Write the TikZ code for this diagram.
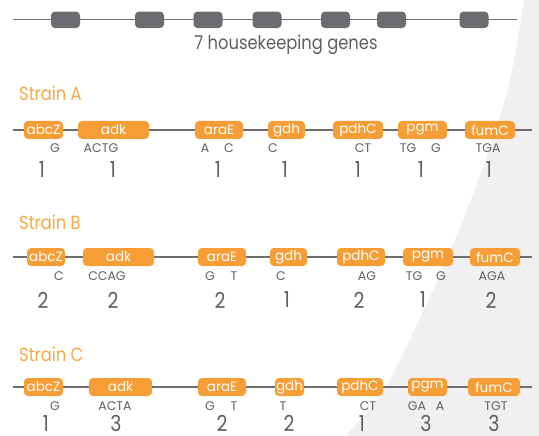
\documentclass[tikz,border=0pt]{standalone}
\usepackage{fontspec}
\setmainfont{Poppins}[FakeStretch=0.86]
\newfontfamily\plainfont{Poppins}
\definecolor{bgrey}{HTML}{F0F0F0}
\definecolor{lgrey}{HTML}{6D6E71}
\definecolor{dgrey}{HTML}{6A6C6F}
\definecolor{tgrey}{HTML}{5E5F62}
\definecolor{orng}{HTML}{F79D36}
\definecolor{torng}{HTML}{F7A845}
\tikzset{
  chrom/.style={draw=lgrey, line width=1.6pt},
  hkbox/.style={fill=dgrey, rounded corners=4pt, minimum width=29, minimum height=16.5, inner sep=0pt},
  obox/.style={fill=orng, text=white, rounded corners=4pt, minimum height=18, inner sep=0pt, font=\plainfont\fontsize{13.5}{14}\selectfont},
  allele/.style={text=tgrey, inner sep=0pt, font=\plainfont\fontsize{12.5}{12.5}\selectfont},
  num/.style={text=tgrey, inner sep=0pt, font=\fontsize{22}{22}\selectfont},
  title/.style={text=torng, inner sep=0pt, anchor=west, font=\fontsize{19}{19}\selectfont},
}
\newcommand{\gene}[5]{\node[obox, minimum width={#3-#2}] (#1) at ({(#2+#3)/2},#4) {#5};}
\begin{document}
\begin{tikzpicture}[x=1pt,y=-1pt]
\useasboundingbox (0,0) rectangle (539,436);
\fill[bgrey] plot[smooth] coordinates {(524,0) (510,80) (488,153) (455,240) (420,318) (384,390) (345,436)} -- (539,436) -- (539,0) -- cycle;
% top
\coordinate (t0) at (13,19.5);
\coordinate (t1) at (517,19.5);
\draw[chrom] (t0) -- (t1);
\node[hkbox] (h1) at (65.5,19.8) {};
\node[hkbox] (h2) at (149.5,19.8) {};
\node[hkbox] (h3) at (208,19.8) {};
\node[hkbox] (h4) at (267,19.8) {};
\node[hkbox] (h5) at (335.5,19.8) {};
\node[hkbox] (h6) at (391.5,19.8) {};
\node[hkbox] (h7) at (474,19.8) {};
\node[text=tgrey, inner sep=0pt, font=\fontsize{19}{19}\selectfont] (hk) at (286,45) {7 housekeeping genes};
% Strain A
\node[title] (tA) at (19,93) {Strain A};
\coordinate (a0) at (13,130);
\coordinate (a9) at (532,130);
\draw[chrom] (a0) -- (a9);
\gene{aabc}{24}{63}{130}{abcZ}
\gene{aadk}{78}{149}{130}{adk}
\gene{aara}{195}{243}{130}{araE}
\gene{agdh}{268}{305}{130}{gdh}
\gene{apdh}{333}{383}{130}{pdhC}
\gene{apgm}{398}{447}{130}{pgm}
\gene{afum}{465}{515}{130}{fumC}
\node[allele] (la1) at (55,148) {G};
\node[allele] (la2) at (101,148) {ACTG};
\node[allele] (la3) at (205,148) {A};
\node[allele] (la4) at (229,148) {C};
\node[allele] (la5) at (273,148) {C};
\node[allele] (la6) at (363,148) {CT};
\node[allele] (la7) at (408,148) {TG};
\node[allele] (la8) at (436,148) {G};
\node[allele] (la9) at (488,148) {TGA};
\node[num] (na1) at (42,170) {1};
\node[num] (na2) at (113,170) {1};
\node[num] (na3) at (218,170) {1};
\node[num] (na4) at (285,170) {1};
\node[num] (na5) at (358,170) {1};
\node[num] (na6) at (421,170) {1};
\node[num] (na7) at (489,170) {1};
% Strain B
\node[title] (tB) at (19,222) {Strain B};
\coordinate (b0) at (13,257);
\coordinate (b9) at (532,257);
\draw[chrom] (b0) -- (b9);
\gene{babc}{27}{65}{257}{abcZ}
\gene{badk}{83}{154}{257}{adk}
\gene{bara}{198}{246}{257}{araE}
\gene{bgdh}{270}{307}{257}{gdh}
\gene{bpdh}{337}{385}{257}{pdhC}
\gene{bpgm}{403}{453}{257}{pgm}
\gene{bfum}{470}{520}{257}{fumC}
\node[allele] (lb1) at (59,276) {C};
\node[allele] (lb2) at (107,276) {CCAG};
\node[allele] (lb3) at (210,276) {G};
\node[allele] (lb4) at (234,276) {T};
\node[allele] (lb5) at (281,276) {C};
\node[allele] (lb6) at (367,276) {AG};
\node[allele] (lb7) at (414,276) {TG};
\node[allele] (lb8) at (441,276) {G};
\node[allele] (lb9) at (492,276) {AGA};
\node[num] (nb1) at (43,300) {2};
\node[num] (nb2) at (113,300) {2};
\node[num] (nb3) at (220,300) {2};
\node[num] (nb4) at (287,300) {1};
\node[num] (nb5) at (359,300) {2};
\node[num] (nb6) at (423,300) {1};
\node[num] (nb7) at (491,300) {2};
% Strain C
\node[title] (tC) at (19,354) {Strain C};
\coordinate (c0) at (13,387);
\coordinate (c9) at (532,387);
\draw[chrom] (c0) -- (c9);
\gene{cabc}{24}{63}{387}{abcZ}
\gene{cadk}{89}{152}{387}{adk}
\gene{cara}{198}{246}{387}{araE}
\gene{cgdh}{275}{304}{387}{gdh}
\gene{cpdh}{337}{383}{387}{pdhC}
\gene{cpgm}{408}{447}{387}{pgm}
\gene{cfum}{468}{520}{387}{fumC}
\node[allele] (lc1) at (55,406) {G};
\node[allele] (lc2) at (115,406) {ACTA};
\node[allele] (lc3) at (210,406) {G};
\node[allele] (lc4) at (234,406) {T};
\node[allele] (lc5) at (283,406) {T};
\node[allele] (lc6) at (368,406) {CT};
\node[allele] (lc7) at (417,406) {GA};
\node[allele] (lc8) at (440,406) {A};
\node[allele] (lc9) at (496,406) {TGT};
\node[num] (nc1) at (46,423.5) {1};
\node[num] (nc2) at (116,423.5) {3};
\node[num] (nc3) at (222,423.5) {2};
\node[num] (nc4) at (289,423.5) {2};
\node[num] (nc5) at (362,423.5) {1};
\node[num] (nc6) at (426,423.5) {3};
\node[num] (nc7) at (494,423.5) {3};
\end{tikzpicture}
\end{document}
